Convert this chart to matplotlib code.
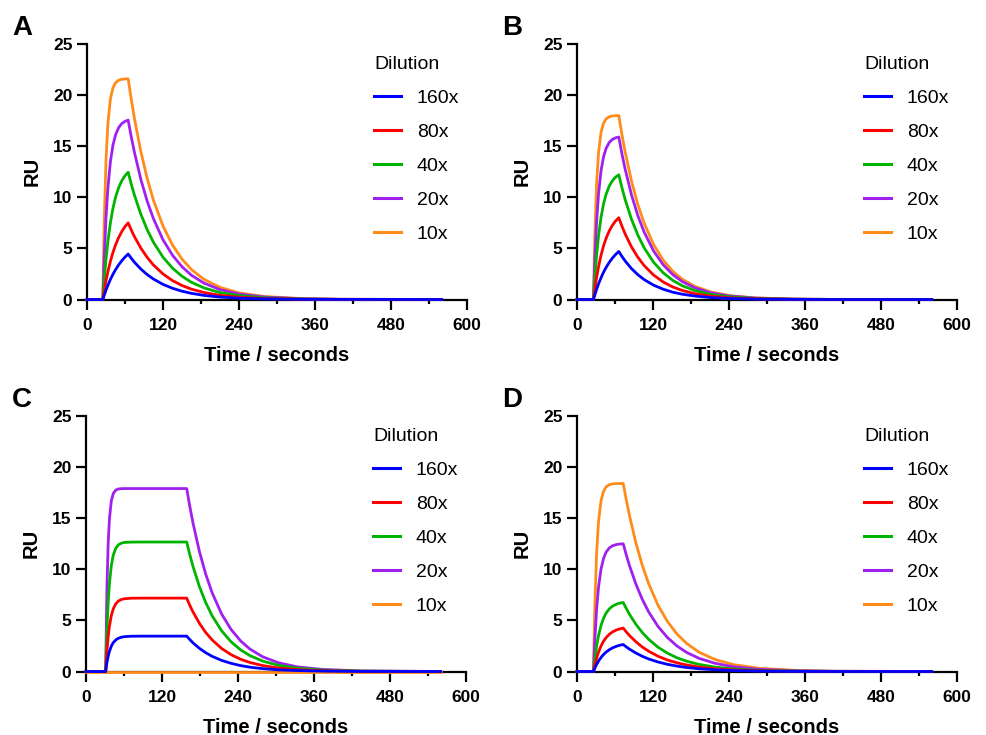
import matplotlib.pyplot as plt
from matplotlib.ticker import MultipleLocator

plt.rcParams['font.family'] = ['Liberation Sans', 'DejaVu Sans']

dilutions = ['160x', '80x', '40x', '20x', '10x']
colors = ['#0000FF', '#FF0000', '#00B400', '#A020F0', '#FF8C1A']

# Panel A
tA = [0, 25, 27, 30, 33, 37, 41, 45, 50, 55, 60, 65, 70, 75, 85, 95, 105, 120, 135, 150, 165, 185, 210, 240, 280, 340, 400, 560]
A_160 = [0, 0, 0.38, 0.91, 1.39, 1.97, 2.47, 2.91, 3.39, 3.80, 4.15, 4.45, 4.03, 3.64, 2.98, 2.44, 2.00, 1.48, 1.10, 0.81, 0.60, 0.40, 0.24, 0.13, 0.06, 0.02, 0.01, 0]
A_80 = [0, 0, 0.77, 1.81, 2.72, 3.75, 4.61, 5.33, 6.07, 6.66, 7.13, 7.50, 6.79, 6.14, 5.03, 4.12, 3.37, 2.50, 1.85, 1.37, 1.01, 0.68, 0.41, 0.23, 0.10, 0.03, 0.01, 0]
A_40 = [0, 0, 1.73, 3.92, 5.69, 7.53, 8.93, 9.99, 10.95, 11.63, 12.11, 12.45, 11.26, 10.19, 8.35, 6.83, 5.59, 4.14, 3.07, 2.27, 1.68, 1.13, 0.68, 0.38, 0.17, 0.05, 0.01, 0]
A_20 = [0, 0, 3.78, 7.99, 10.92, 13.51, 15.11, 16.09, 16.82, 17.22, 17.43, 17.55, 15.88, 14.37, 11.76, 9.63, 7.89, 5.84, 4.33, 3.21, 2.37, 1.59, 0.97, 0.53, 0.24, 0.07, 0.02, 0]
A_10 = [0, 0, 7.12, 13.65, 17.24, 19.64, 20.72, 21.20, 21.46, 21.55, 21.58, 21.60, 19.54, 17.68, 14.48, 11.85, 9.70, 7.19, 5.33, 3.95, 2.92, 1.96, 1.19, 0.65, 0.29, 0.09, 0.03, 0]

# Panel B
tB = [0, 26, 28, 31, 34, 38, 42, 46, 51, 56, 61, 66, 71, 76, 86, 96, 106, 121, 136, 151, 166, 186, 211, 241, 281, 341, 401, 560]
B_160 = [0, 0, 0.42, 1.00, 1.52, 2.14, 2.68, 3.14, 3.64, 4.06, 4.41, 4.70, 4.21, 3.77, 3.03, 2.43, 1.95, 1.40, 1.01, 0.72, 0.52, 0.34, 0.19, 0.10, 0.04, 0.01, 0, 0]
B_80 = [0, 0, 0.94, 2.16, 3.20, 4.35, 5.27, 6.00, 6.72, 7.27, 7.69, 8.00, 7.17, 6.42, 5.15, 4.14, 3.32, 2.39, 1.72, 1.23, 0.89, 0.57, 0.33, 0.17, 0.07, 0.02, 0, 0]
B_40 = [0, 0, 1.97, 4.37, 6.23, 8.07, 9.38, 10.31, 11.11, 11.63, 11.98, 12.20, 10.93, 9.79, 7.86, 6.31, 5.06, 3.64, 2.62, 1.88, 1.35, 0.87, 0.50, 0.26, 0.11, 0.03, 0.01, 0]
B_20 = [0, 0, 3.66, 7.64, 10.34, 12.63, 13.99, 14.80, 15.37, 15.67, 15.82, 15.90, 14.24, 12.76, 10.24, 8.22, 6.60, 4.74, 3.41, 2.45, 1.76, 1.14, 0.66, 0.34, 0.14, 0.04, 0.01, 0]
B_10 = [0, 0, 5.93, 11.38, 14.37, 16.37, 17.27, 17.67, 17.88, 17.96, 17.98, 18.00, 16.12, 14.45, 11.59, 9.30, 7.47, 5.37, 3.86, 2.77, 1.99, 1.29, 0.74, 0.38, 0.16, 0.04, 0.01, 0]

# Panel C
tC = [0, 31, 33, 35, 37, 40, 43, 47, 51, 56, 61, 71, 86, 111, 159, 164, 169, 179, 189, 199, 214, 229, 244, 259, 279, 304, 334, 374, 434, 560]
C_160 = [0, 0, 0.84, 1.48, 1.97, 2.48, 2.82, 3.09, 3.25, 3.36, 3.41, 3.45, 3.46, 3.46, 3.46, 3.12, 2.80, 2.27, 1.84, 1.49, 1.09, 0.80, 0.58, 0.42, 0.28, 0.16, 0.09, 0.04, 0.01, 0]
C_80 = [0, 0, 1.97, 3.39, 4.43, 5.48, 6.13, 6.62, 6.89, 7.05, 7.12, 7.17, 7.18, 7.18, 7.18, 6.46, 5.82, 4.72, 3.82, 3.10, 2.26, 1.65, 1.20, 0.88, 0.58, 0.34, 0.18, 0.08, 0.02, 0]
C_40 = [0, 0, 4.01, 6.74, 8.62, 10.38, 11.37, 12.06, 12.39, 12.56, 12.63, 12.66, 12.67, 12.67, 12.67, 11.41, 10.27, 8.32, 6.75, 5.47, 3.99, 2.91, 2.12, 1.55, 1.02, 0.60, 0.32, 0.14, 0.04, 0]
C_20 = [0, 0, 8.08, 12.51, 14.94, 16.70, 17.41, 17.75, 17.86, 17.89, 17.90, 17.90, 17.90, 17.90, 17.90, 16.12, 14.51, 11.76, 9.53, 7.73, 5.64, 4.12, 3.00, 2.19, 1.44, 0.85, 0.45, 0.20, 0.06, 0]
C_10 = [0, 0, 0, 0, 0, 0, 0, 0, 0, 0, 0, 0, 0, 0, 0, 0, 0, 0, 0, 0, 0, 0, 0, 0, 0, 0, 0, 0, 0, 0]

# Panel D
tD = [0, 26, 28, 31, 34, 38, 42, 46, 51, 56, 62, 67, 73, 78, 83, 93, 103, 113, 128, 143, 158, 173, 193, 218, 248, 288, 348, 408, 560]
D_160 = [0, 0, 0.30, 0.69, 1.02, 1.38, 1.67, 1.90, 2.13, 2.31, 2.46, 2.56, 2.64, 2.40, 2.18, 1.81, 1.49, 1.23, 0.93, 0.70, 0.53, 0.39, 0.27, 0.17, 0.09, 0.04, 0.01, 0, 0]
D_80 = [0, 0, 0.58, 1.30, 1.89, 2.51, 2.97, 3.32, 3.64, 3.87, 4.06, 4.16, 4.25, 3.86, 3.51, 2.91, 2.40, 1.99, 1.49, 1.12, 0.85, 0.64, 0.43, 0.27, 0.15, 0.07, 0.02, 0.01, 0]
D_40 = [0, 0, 1.13, 2.48, 3.52, 4.52, 5.23, 5.72, 6.13, 6.39, 6.58, 6.68, 6.75, 6.14, 5.58, 4.62, 3.82, 3.16, 2.37, 1.79, 1.34, 1.01, 0.69, 0.43, 0.24, 0.11, 0.04, 0.01, 0]
D_20 = [0, 0, 2.96, 6.14, 8.27, 10.04, 11.08, 11.68, 12.09, 12.30, 12.42, 12.47, 12.50, 11.37, 10.34, 8.55, 7.07, 5.85, 4.40, 3.31, 2.49, 1.87, 1.28, 0.80, 0.45, 0.21, 0.07, 0.02, 0]
D_10 = [0, 0, 6.07, 11.63, 14.69, 16.73, 17.65, 18.06, 18.28, 18.35, 18.39, 18.39, 18.40, 16.73, 15.22, 12.58, 10.41, 8.61, 6.47, 4.87, 3.66, 2.75, 1.88, 1.17, 0.66, 0.31, 0.10, 0.03, 0]

panels = [
    ('A', tA, [A_160, A_80, A_40, A_20, A_10]),
    ('B', tB, [B_160, B_80, B_40, B_20, B_10]),
    ('C', tC, [C_160, C_80, C_40, C_20, C_10]),
    ('D', tD, [D_160, D_80, D_40, D_20, D_10]),
]

fig = plt.figure(figsize=(9.86, 7.35), dpi=100)
W, H = 986, 735
# axes origins in pixels (x of t=0, y of RU=0)
origins = [(87, 299.5), (577, 299.5), (86, 671.5), (577, 671.5)]
letter_pos = [(12, 15), (502, 15), (12, 387), (502, 387)]

for (letter, t, series), (x0, y0), (lx, ly) in zip(panels, origins, letter_pos):
    ax = fig.add_axes([x0 / W, 1 - y0 / H, 380 / W, 255.5 / H])
    lines = []
    # 10x underneath, 160x on top
    for i in range(4, -1, -1):
        ln, = ax.plot(t, series[i], color=colors[i], lw=2.0, clip_on=False,
                      zorder=3 + (4 - i) * 0.1, label=dilutions[i],
                      solid_joinstyle='round')
        lines.append(ln)
    lines = lines[::-1]

    ax.set_xlim(0, 600)
    ax.set_ylim(0, 25)
    ax.xaxis.set_major_locator(MultipleLocator(120))
    ax.xaxis.set_minor_locator(MultipleLocator(60))
    ax.yaxis.set_major_locator(MultipleLocator(5))
    for s in ['top', 'right']:
        ax.spines[s].set_visible(False)
    for s in ['left', 'bottom']:
        ax.spines[s].set_linewidth(1.6)
    ax.tick_params(axis='both', which='major', length=7.5, width=1.6,
                   labelsize=12.5)
    ax.tick_params(axis='y', which='major', pad=3)
    ax.tick_params(axis='x', which='major', pad=6)
    ax.tick_params(axis='x', which='minor', length=3, width=1.6)
    for lab in ax.get_xticklabels() + ax.get_yticklabels():
        lab.set_fontweight('bold')
    ax.set_xlabel('Time / seconds', fontsize=14.5, fontweight='bold', labelpad=9)
    ax.set_ylabel('RU', fontsize=14.5, fontweight='bold', labelpad=8)

    leg = ax.legend(handles=lines, title='Dilution', loc='upper left',
                    bbox_to_anchor=(0.745, 0.968), frameon=False, fontsize=14,
                    title_fontsize=14, handlelength=1.4, handletextpad=0.8,
                    labelspacing=0.84, borderaxespad=0, borderpad=0.2,
                    alignment='left')
    for h in leg.legend_handles:
        h.set_linewidth(2.2)

    fig.text(lx / W, 1 - ly / H, letter, fontsize=20, fontweight='bold',
             ha='left', va='top')

plt.savefig('out.png', dpi=100)
